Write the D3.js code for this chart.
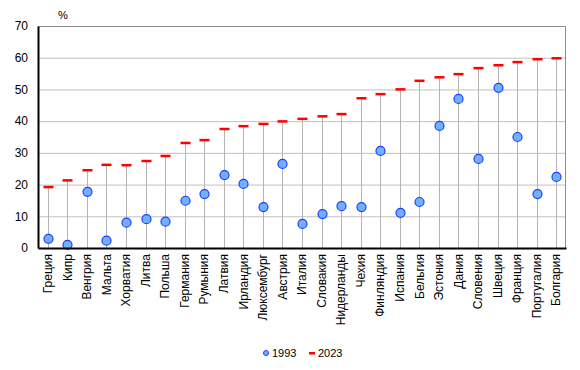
<!DOCTYPE html>
<html>
<head>
<meta charset="utf-8">
<script src="https://cdn.jsdelivr.net/npm/d3@7"></script>
<style>
  body { margin: 0; background: #fff; }
  svg text { font-family: Arial, "Liberation Sans", sans-serif; font-size: 11px; fill: #000; }
</style>
</head>
<body>
<div class="container"></div>
<script>
var countries = ["Греция", "Кипр", "Венгрия", "Мальта", "Хорватия", "Литва", "Польша",
  "Германия", "Румыния", "Латвия", "Ирландия", "Люксембург", "Австрия", "Италия",
  "Словакия", "Нидерланды", "Чехия", "Финляндия", "Испания", "Бельгия", "Эстония",
  "Дания", "Словения", "Швеция", "Франция", "Португалия", "Болгария"];
var v1993 = [2.9, 1.0, 17.7, 2.3, 8.0, 9.1, 8.3, 14.9, 17.0, 23.0, 20.2, 12.9, 26.5, 7.6,
  10.7, 13.2, 12.9, 30.6, 11.1, 14.5, 38.5, 47.0, 28.1, 50.5, 35.0, 17.0, 22.4];
var v2023 = [19.3, 21.4, 24.6, 26.3, 26.2, 27.5, 29.1, 33.2, 34.1, 37.6, 38.5, 39.2, 40.0, 40.8,
  41.6, 42.3, 47.3, 48.6, 50.1, 52.8, 53.9, 54.9, 56.8, 57.7, 58.7, 59.6, 59.9];
var yTicks = [0, 10, 20, 30, 40, 50, 60, 70];

var margin = {top: 26, right: 14, bottom: 122, left: 38};
var width = 580 - margin.left - margin.right;
var height = 370 - margin.top - margin.bottom;

var x = d3.scaleBand().domain(countries).range([0, width]);
var y = d3.scaleLinear().domain([0, 70]).range([height, 0]);

var svg = d3.select(".container")
    .append("svg")
    .attr("width", 580)
    .attr("height", 370);

var g = svg.append("g")
    .attr("transform", "translate(" + margin.left + "," + margin.top + ")");

// grid
g.selectAll(".grid")
    .data(yTicks.slice(1))
    .enter().append("line")
    .attr("x1", 0).attr("x2", width)
    .attr("y1", function(d) { return y(d) + 0.5; })
    .attr("y2", function(d) { return y(d) + 0.5; })
    .attr("stroke", "#c0c0c0");

// frame top/right
g.append("path")
    .attr("d", "M0,0.5H" + (width - 0.5) + "V" + height)
    .attr("fill", "none")
    .attr("stroke", "#8c8c8c");

// drop lines
g.selectAll(".drop")
    .data(countries)
    .enter().append("line")
    .attr("x1", function(d) { return Math.round(x(d) + x.bandwidth() / 2) + 0.5; })
    .attr("x2", function(d) { return Math.round(x(d) + x.bandwidth() / 2) + 0.5; })
    .attr("y1", height)
    .attr("y2", function(d, i) { return y(v2023[i]); })
    .attr("stroke", "#b4b4b4");

// 2023 dashes
g.selectAll(".dash")
    .data(countries)
    .enter().append("rect")
    .attr("x", function(d) { return Math.round(x(d) + x.bandwidth() / 2) - 4.5; })
    .attr("y", function(d, i) { return y(v2023[i]) - 1; })
    .attr("width", 10)
    .attr("height", 2.5)
    .attr("fill", "#ff0000");

// 1993 circles
g.selectAll(".dot")
    .data(countries)
    .enter().append("circle")
    .attr("cx", function(d) { return Math.round(x(d) + x.bandwidth() / 2) + 0.5; })
    .attr("cy", function(d, i) { return y(v1993[i]); })
    .attr("r", 4.5)
    .attr("fill", "#6fb1ff")
    .attr("stroke", "#1f3dff")
    .attr("stroke-width", 1.2);

// axes
var yAxis = g.append("g")
    .call(d3.axisLeft(y).tickValues(yTicks).tickSize(0).tickPadding(10));
yAxis.select(".domain").attr("stroke", "#000").attr("stroke-width", 2);
yAxis.selectAll("text").style("font-size", "12px");

var xAxis = g.append("g")
    .attr("transform", "translate(0," + height + ")")
    .call(d3.axisBottom(x).tickSize(0).tickPadding(6));
xAxis.select(".domain").attr("stroke", "#000").attr("stroke-width", 2);
xAxis.selectAll("text")
    .style("text-anchor", "end")
    .style("font-size", "12px")
    .attr("dx", "-6px")
    .attr("dy", "0.35em")
    .attr("x", 0).attr("y", 0)
    .attr("transform", "rotate(-90)");

svg.append("text")
    .attr("x", 58).attr("y", 19)
    .text("%");

// legend
var leg = svg.append("g").attr("transform", "translate(0,353)");
leg.append("circle")
    .attr("cx", 266).attr("cy", 0).attr("r", 2.5)
    .attr("fill", "#6fb1ff").attr("stroke", "#1f3dff");
leg.append("text").attr("x", 272).attr("y", 4).text("1993");
leg.append("rect")
    .attr("x", 309).attr("y", -1).attr("width", 6).attr("height", 2.5)
    .attr("fill", "#ff0000");
leg.append("text").attr("x", 318).attr("y", 4).text("2023");
</script>
</body>
</html>
